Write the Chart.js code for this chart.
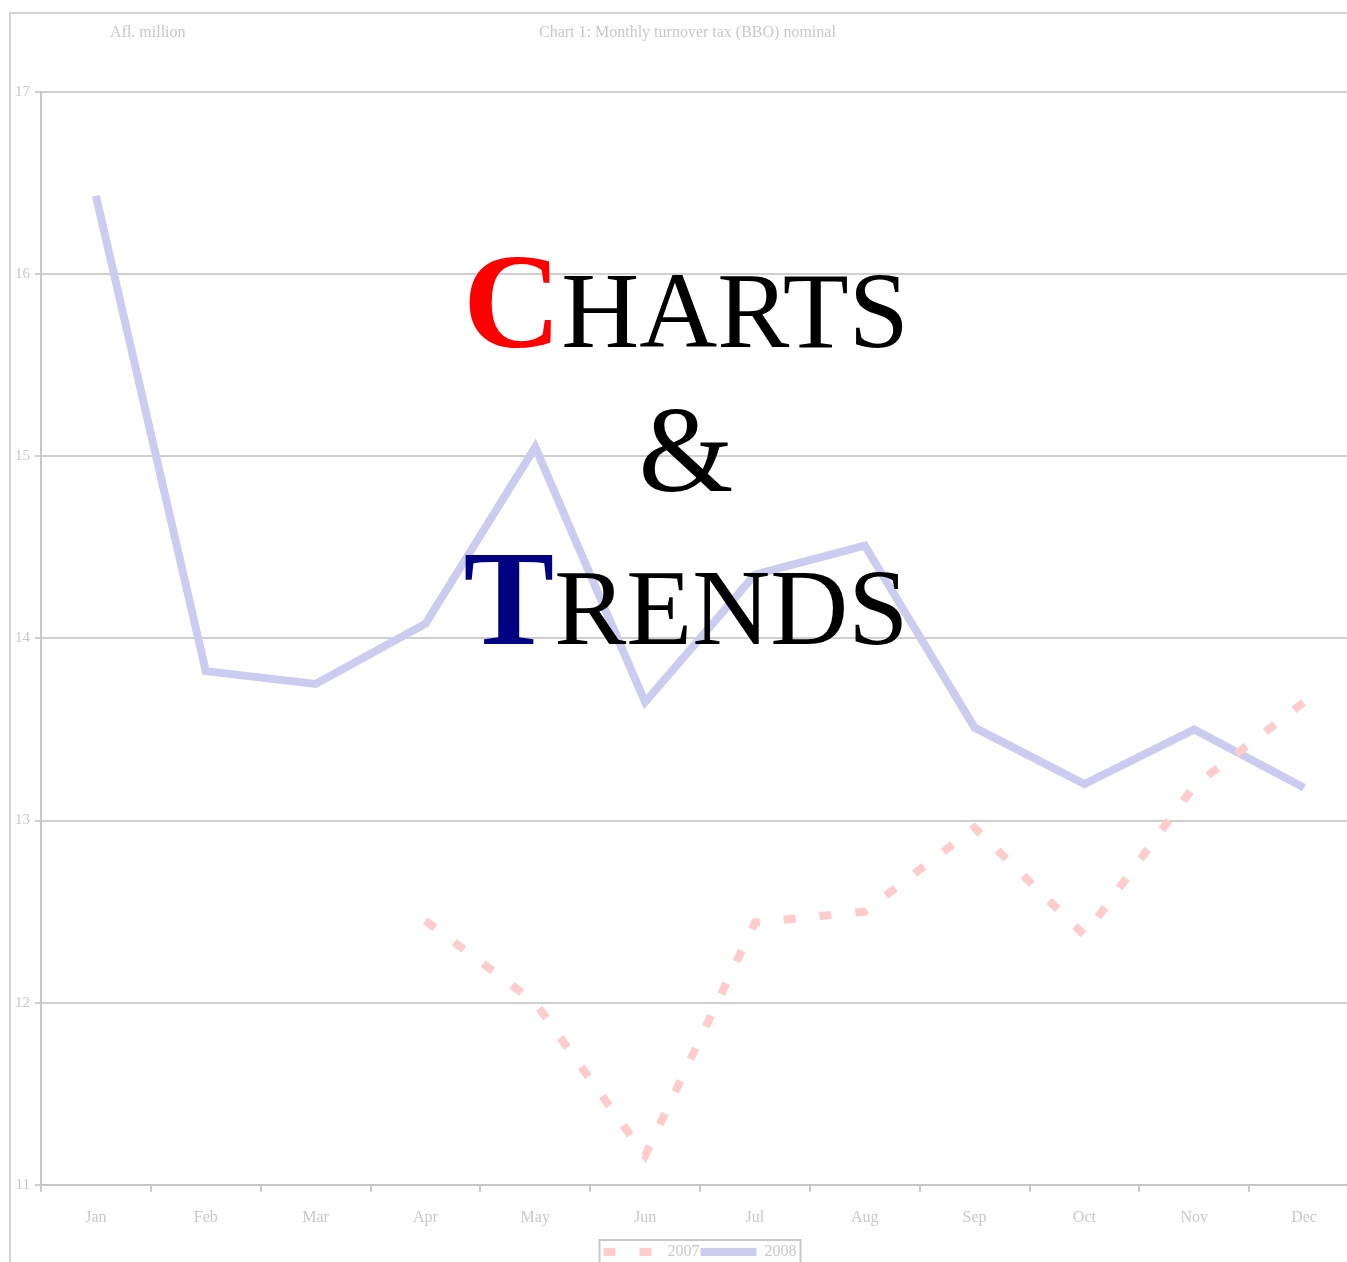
<!DOCTYPE html>
<html>
<head>
<meta charset="utf-8">
<script src="https://cdn.jsdelivr.net/npm/chart.js@4/dist/chart.umd.min.js"></script>
<style>
  html, body { margin: 0; padding: 0; background: #fff; overflow: hidden; }
  #wrap { position: relative; width: 1347px; height: 1262px; overflow: hidden; }
  #frame { position: absolute; left: 9px; top: 12px; width: 1400px; height: 1300px; border: 2px solid #d4d4d4; box-sizing: border-box; }
  #box { position: absolute; left: 0; top: 0; width: 1359px; height: 1270px; }
  .cap { position: absolute; top: 23px; font-family: 'Liberation Serif', serif; font-size: 16px; color: #c8c8c8; white-space: nowrap; }
  .logo { position: absolute; left: 0; width: 1372px; text-align: center; font-family: 'Liberation Serif', serif; color: #000; white-space: nowrap; line-height: 1; }
</style>
</head>
<body>
<div id="wrap">
  <div id="frame"></div>
  <div id="box"><canvas id="chart-bbo"></canvas></div>
  <div class="cap" style="left:110px;">Afl. million</div>
  <div class="cap" style="left:539px;">Chart 1: Monthly turnover tax (BBO) nominal</div>
  <div class="logo" style="top:233px;font-size:108px;"><span style="color:#ff0000;font-weight:bold;font-size:136px;">C</span>HARTS</div>
  <div class="logo" style="top:389px;font-size:122px;">&amp;</div>
  <div class="logo" style="top:530px;font-size:108px;"><span style="color:#000080;font-weight:bold;font-size:136px;">T</span>RENDS</div>
</div>
<script>
/* Datos */
const MESES = ['Jan', 'Feb', 'Mar', 'Apr', 'May', 'Jun', 'Jul', 'Aug', 'Sep', 'Oct', 'Nov', 'Dec'];
const BBO_2007 = [null, null, null, 12.45, 12.0, 11.16, 12.44, 12.5, 12.96, 12.37, 13.19, 13.65];
const BBO_2008 = [16.43, 13.82, 13.75, 14.08, 15.05, 13.65, 14.35, 14.51, 13.51, 13.2, 13.5, 13.18];
const EJE_Y = { min: 11, max: 17, paso: 1 };

const GRIS = '#c8c8c8';
const fuente = { family: 'Liberation Serif', size: 16 };

/* Recuadro de la leyenda */
const marcoLeyenda = {
  id: 'marcoLeyenda',
  afterDraw(chart) {
    const hb = chart.legend && chart.legend.legendHitBoxes;
    if (!hb || !hb.length) return;
    const left = Math.min(...hb.map(b => b.left)) - 4;
    const right = Math.max(...hb.map(b => b.left + b.width)) + 4;
    const top = hb[0].top - 4;
    const ctx = chart.ctx;
    ctx.save();
    ctx.strokeStyle = GRIS;
    ctx.lineWidth = 2;
    ctx.strokeRect(left, top, right - left, 60);
    ctx.restore();
  }
};

const ctx = document.getElementById('chart-bbo').getContext('2d');
new Chart(ctx, {
  type: 'line',
  data: {
    labels: MESES,
    datasets: [
      {
        label: '2007',
        data: BBO_2007,
        borderColor: '#ffcccc',
        backgroundColor: '#ffcccc',
        borderWidth: 8,
        borderDash: [12, 24],
        borderCapStyle: 'butt',
        pointRadius: 0,
        tension: 0,
        fill: false
      },
      {
        label: '2008',
        data: BBO_2008,
        borderColor: '#ccccf0',
        backgroundColor: '#ccccf0',
        borderWidth: 8,
        pointRadius: 0,
        tension: 0,
        fill: false
      }
    ]
  },
  plugins: [marcoLeyenda],
  options: {
    responsive: true,
    maintainAspectRatio: false,
    animation: false,
    layout: { padding: { top: 92, right: 0, left: 0, bottom: 0 } },
    plugins: {
      tooltip: { enabled: false },
      legend: {
        position: 'bottom',
        fullSize: false,
        labels: {
          usePointStyle: true,
          pointStyle: 'line',
          pointStyleWidth: 56,
          boxHeight: 8,
          color: GRIS,
          font: fuente,
          padding: 1,
          generateLabels: chart => {
            const items = Chart.defaults.plugins.legend.labels.generateLabels(chart);
            items.forEach((it, i) => {
              const ds = chart.data.datasets[i];
              it.lineDash = ds.borderDash || [];
              it.lineWidth = ds.borderWidth;
              it.strokeStyle = ds.borderColor;
            });
            return items;
          }
        }
      }
    },
    scales: {
      x: {
        offset: true,
        grid: { display: true, drawOnChartArea: false, drawTicks: true, tickLength: 7, color: GRIS, lineWidth: 2, offset: true },
        border: { color: GRIS, width: 2 },
        ticks: { color: GRIS, font: fuente, padding: 16 }
      },
      y: {
        min: EJE_Y.min,
        max: EJE_Y.max,
        afterFit: s => { s.width = 41; },
        grid: { color: '#cfcfcf', lineWidth: 2, tickLength: 6 },
        border: { color: GRIS, width: 2 },
        ticks: { stepSize: EJE_Y.paso, color: GRIS, font: { family: 'Liberation Serif', size: 15 }, padding: 5 }
      }
    }
  }
});
</script>
</body>
</html>
